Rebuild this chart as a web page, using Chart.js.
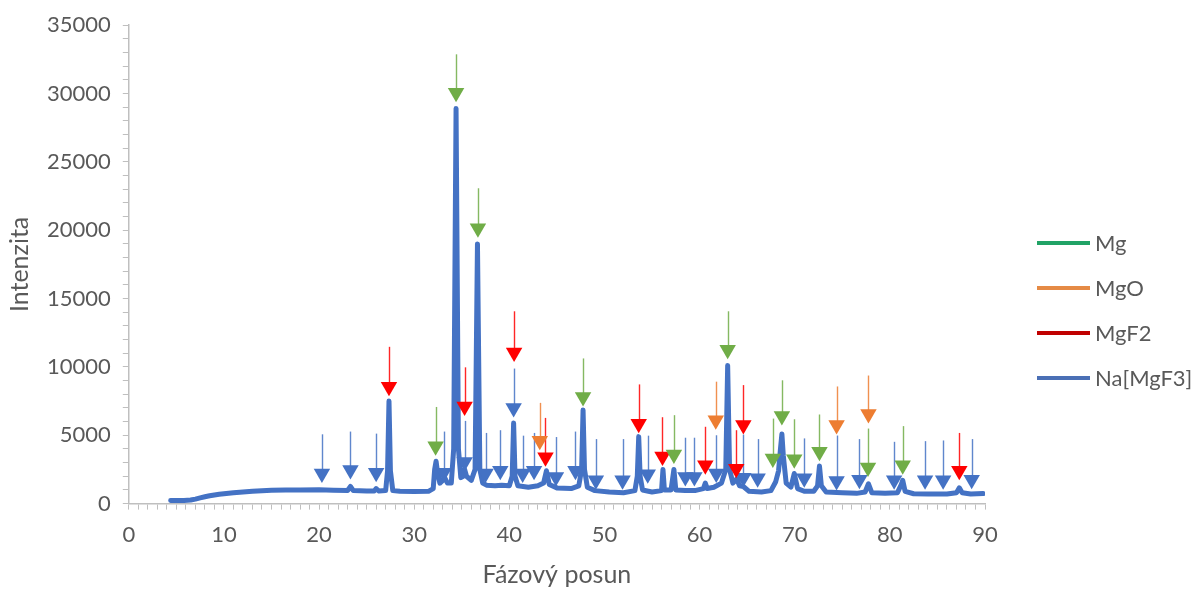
<!DOCTYPE html>
<html>
<head>
<meta charset="utf-8">
<script src="https://cdn.jsdelivr.net/npm/chart.js@4"></script>
<style>
  html, body { margin: 0; padding: 0; background: #fff; }
  #wrap { width: 1195px; height: 590px; }
</style>
</head>
<body>
<div id="wrap"><canvas id="xrd"></canvas></div>
<script>
// diffraction pattern (2theta, counts)
const twoTheta = [
  4.4, 5.0, 5.8, 6.5, 7.0, 7.5, 8.0, 8.5, 9.0, 9.5, 10.0, 11.0, 12.0, 13.0, 14.0, 15.0, 16.5, 18.0, 20.0,
  21.5, 23.0, 23.3, 23.6, 25.0, 25.8, 26.0, 26.3, 27.0, 27.2, 27.35, 27.5, 27.75, 28.5, 30.0, 31.5,
  32.0, 32.15, 32.3, 32.45, 32.7, 33.0, 33.2, 33.5, 33.9, 34.15, 34.4, 34.65, 34.9, 35.15, 35.3, 35.5,
  36.0, 36.4, 36.65, 36.9, 37.2, 37.6, 38.5, 39.2, 40.0, 40.3, 40.45, 40.6, 40.9, 42.0, 43.0, 43.6,
  43.9, 44.2, 45.0, 46.5, 47.3, 47.6, 47.75, 47.9, 48.2, 49.0, 50.5, 52.0, 53.2, 53.45, 53.6, 53.75,
  54.0, 55.0, 56.0, 56.15, 56.3, 57.0, 57.3, 57.5, 58.5, 59.5, 60.4, 60.6, 60.8, 61.5, 62.3, 62.75,
  62.95, 63.15, 63.5, 63.9, 64.2, 64.6, 65.2, 66.5, 67.5, 68.0, 68.3, 68.5, 68.65, 68.8, 69.1, 69.6,
  69.95, 70.3, 71.0, 72.0, 72.4, 72.6, 72.8, 73.3, 75.0, 76.5, 77.4, 77.75, 78.1, 79.5, 80.8, 81.2,
  81.35, 81.6, 82.5, 84.0, 86.0, 87.0, 87.3, 87.6, 88.5, 89.8
];
const intensity = [
  230, 220, 230, 260, 330, 420, 500, 570, 630, 680, 720, 790, 850, 900, 940, 970, 990, 1000, 1010,
  980, 960, 1250, 950, 930, 920, 1100, 920, 950, 2400, 7500, 2400, 950, 900, 880, 900,
  1100, 2500, 3100, 2300, 1500, 1700, 1900, 1500, 1500, 4000, 28900, 4000, 1900, 2000, 2500, 2000,
  1700, 2500, 19000, 2500, 1500, 1350, 1300, 1350, 1300, 2000, 5900, 2000, 1300, 1200, 1300, 1500,
  2400, 1400, 1150, 1100, 1300, 2500, 6850, 2500, 1200, 950, 850, 800, 950, 2000, 4900, 2000,
  1000, 850, 950, 2500, 1000, 1000, 2500, 1000, 950, 950, 1100, 1500, 1100, 1200, 1500, 2500,
  10100, 2500, 1500, 1800, 1300, 1250, 900, 850, 950, 1600, 2400, 4000, 5100, 3500, 1500, 1200,
  2200, 1100, 900, 900, 1300, 2750, 1300, 850, 800, 750, 850, 1450, 800, 750, 800, 1400,
  1700, 900, 720, 700, 700, 800, 1150, 800, 700, 730
];

// phase markers: [2theta, arrow head, arrow tail]
const mgMarks = [
  [32.25, 4200, 7070], [34.4, 30050, 32870], [36.7, 20150, 23070], [47.75, 7800, 10620],
  [57.3, 3600, 6470], [62.95, 11250, 14070], [67.7, 3300, 6220], [68.65, 6400, 9020],
  [69.95, 3250, 6170], [72.6, 3800, 6520], [77.7, 2650, 5490], [81.35, 2800, 5670]
];
const mgoMarks = [
  [43.2, 4600, 7370], [61.7, 6100, 8920], [74.4, 5750, 8570], [77.75, 6550, 9370]
];
const mgf2Marks = [
  [27.35, 8550, 11470], [35.3, 7100, 9970], [40.5, 11050, 14070], [43.8, 3400, 6270],
  [53.6, 5850, 8720], [56.1, 3450, 6320], [60.6, 2800, 5620], [63.85, 2550, 5370],
  [64.6, 5750, 8670], [87.3, 2400, 5170]
];
const namgf3Marks = [
  [20.3, 2200, 5070], [23.3, 2450, 5270], [26.0, 2250, 5120], [33.1, 2250, 5270],
  [35.3, 3050, 6050], [37.5, 2200, 5170], [39.05, 2400, 5370], [40.45, 7000, 9880],
  [41.4, 2200, 4970], [42.6, 2400, 5170], [44.9, 1950, 4870], [46.95, 2400, 5270],
  [49.1, 1700, 4720], [51.9, 1700, 4720], [54.55, 2150, 4970], [58.5, 1950, 4820],
  [59.45, 1950, 4820], [61.75, 2200, 5000], [64.6, 1900, 5050], [66.1, 1850, 4720],
  [71.0, 1850, 4770], [74.4, 1650, 4980], [76.8, 1750, 4720], [80.45, 1700, 4520],
  [83.7, 1700, 4570], [85.6, 1700, 4620], [88.6, 1750, 4720]
];

const phaseNames = ['Mg', 'MgO', 'MgF2', 'Na[MgF3]'];
const markColors = ['#70AD47', '#ED7D31', '#FF0000', '#4472C4'];
const keyColors = ['#21A366', '#E58A45', '#C00000', '#4A6FB5'];

const textColor = '#595959';
const axisColor = '#BFBFBF';
Chart.defaults.font.family = 'Lato, "Open Sans", sans-serif';
Chart.defaults.color = textColor;

function markerSet(name, marks, color, keyColor) {
  return {
    label: name,
    data: marks.map(m => ({ x: m[0], y: m[1], top: m[2] })),
    pointStyle: 'triangle',
    rotation: 180,
    pointRadius: 9.5,
    pointHoverRadius: 9.5,
    pointBackgroundColor: color,
    pointBorderWidth: 0,
    borderColor: color,
    keyColor: keyColor,
    showLine: false,
    order: 1
  };
}

// thin stems above each arrow head
const stems = {
  id: 'stems',
  beforeDatasetsDraw(chart) {
    const { ctx, scales: { x, y } } = chart;
    ctx.save();
    ctx.lineWidth = 1.4;
    chart.data.datasets.forEach(ds => {
      if (!ds.keyColor) return;
      ctx.strokeStyle = ds.borderColor;
      ctx.globalAlpha = 0.85;
      ds.data.forEach(p => {
        const px = Math.round(x.getPixelForValue(p.x)) + 0.5;
        ctx.beginPath();
        ctx.moveTo(px, y.getPixelForValue(p.top));
        ctx.lineTo(px, y.getPixelForValue(p.y));
        ctx.stroke();
      });
    });
    ctx.restore();
  }
};

// legend on the right: line sample + phase name
const phaseKey = {
  id: 'phaseKey',
  afterDraw(chart) {
    const { ctx, chartArea } = chart;
    const x0 = chartArea.right + 52;
    const y0 = 243;
    ctx.save();
    ctx.font = '22px Lato, "Open Sans", sans-serif';
    ctx.textBaseline = 'middle';
    ctx.fillStyle = textColor;
    chart.data.datasets.filter(ds => ds.keyColor).forEach((ds, i) => {
      const yy = y0 + i * 45;
      ctx.strokeStyle = ds.keyColor;
      ctx.lineWidth = 4;
      ctx.beginPath();
      ctx.moveTo(x0, yy);
      ctx.lineTo(x0 + 53, yy);
      ctx.stroke();
      ctx.fillText(ds.label, x0 + 58, yy + 1);
    });
    ctx.restore();
  }
};

const ctx = document.getElementById('xrd');
new Chart(ctx, {
  type: 'scatter',
  data: {
    datasets: [
      markerSet(phaseNames[0], mgMarks, markColors[0], keyColors[0]),
      markerSet(phaseNames[1], mgoMarks, markColors[1], keyColors[1]),
      markerSet(phaseNames[2], mgf2Marks, markColors[2], keyColors[2]),
      markerSet(phaseNames[3], namgf3Marks, markColors[3], keyColors[3]),
      {
        label: 'pattern',
        data: twoTheta.map((t, i) => ({ x: t, y: intensity[i] })),
        showLine: true,
        borderColor: '#4472C4',
        borderWidth: 5,
        borderJoinStyle: 'round',
        borderCapStyle: 'round',
        pointRadius: 0,
        tension: 0,
        order: 5
      }
    ]
  },
  options: {
    responsive: true,
    maintainAspectRatio: false,
    animation: false,
    layout: { padding: { left: 5, top: 14, right: 210, bottom: 0 } },
    plugins: {
      legend: { display: false },
      tooltip: { enabled: false }
    },
    scales: {
      x: {
        type: 'linear',
        min: 0,
        max: 90,
        border: { display: true, color: axisColor, width: 1.5 },
        grid: { drawOnChartArea: false, drawTicks: true, tickLength: 6, color: axisColor },
        ticks: {
          stepSize: 1,
          autoSkip: false,
          maxRotation: 0,
          minRotation: 0,
          padding: 12,
          font: { size: 22 },
          callback: v => (v % 10 === 0 ? String(v) : '')
        },
        title: { display: true, text: 'Fázový posun', font: { size: 25 }, padding: { top: 0, bottom: 0 } }
      },
      y: {
        min: 0,
        max: 35000,
        border: { display: true, color: axisColor, width: 1.5 },
        grid: { drawOnChartArea: false, drawTicks: true, tickLength: 6, color: axisColor },
        ticks: {
          stepSize: 1000,
          autoSkip: false,
          padding: 12,
          font: { size: 22 },
          callback: v => (v % 5000 === 0 ? String(v) : '')
        },
        title: { display: true, text: 'Intenzita', font: { size: 25 }, padding: { top: 0, bottom: 0 } }
      }
    }
  },
  plugins: [stems, phaseKey]
});
</script>
</body>
</html>
